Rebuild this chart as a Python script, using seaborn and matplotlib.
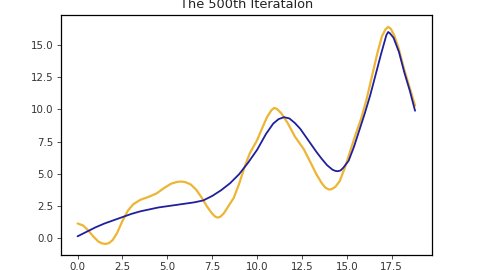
import matplotlib
matplotlib.use("Agg")
import matplotlib.pyplot as plt
import seaborn as sns
import pandas as pd

# Data
orange_x = [0.0, 0.3, 0.6, 0.9, 1.15, 1.35, 1.57, 1.75, 1.95, 2.2, 2.5, 2.8, 3.1, 3.5, 4.0, 4.4, 4.8,
            5.2, 5.5, 5.75, 6.0, 6.3, 6.6, 6.9, 7.2, 7.45, 7.65, 7.8, 7.95, 8.15, 8.4, 8.7, 9.0,
            9.3, 9.6, 10.0, 10.3, 10.55, 10.8, 10.95, 11.1, 11.35, 11.7, 12.1, 12.6, 13.0, 13.3,
            13.6, 13.8, 14.0, 14.15, 14.35, 14.6, 14.9, 15.2, 15.5, 15.8, 16.1, 16.4, 16.7, 16.95,
            17.15, 17.3, 17.45, 17.65, 17.9, 18.2, 18.5, 18.8]
orange_y = [1.1, 0.95, 0.55, 0.05, -0.3, -0.45, -0.5, -0.43, -0.2, 0.35, 1.3, 2.1, 2.6, 2.95, 3.2, 3.45, 3.85,
            4.2, 4.33, 4.38, 4.33, 4.15, 3.75, 3.15, 2.45, 1.95, 1.65, 1.56, 1.62, 1.9, 2.45, 3.1, 4.2,
            5.5, 6.6, 7.6, 8.6, 9.4, 9.95, 10.12, 10.05, 9.7, 8.95, 7.9, 6.9, 5.8, 4.95,
            4.25, 3.9, 3.75, 3.78, 3.95, 4.4, 5.5, 6.8, 8.1, 9.3, 10.8, 12.6, 14.4, 15.7,
            16.25, 16.45, 16.3, 15.75, 14.7, 13.1, 11.7, 10.3]

blue_x = [0.0, 0.5, 1.0, 1.5, 2.0, 2.5, 3.0, 3.5, 4.0, 4.5, 5.0, 5.5, 6.0, 6.5, 7.0, 7.5,
          8.0, 8.5, 9.0, 9.5, 10.0, 10.5, 10.9, 11.2, 11.5, 11.8, 12.1, 12.4, 12.8, 13.3,
          13.6, 13.9, 14.2, 14.35, 14.5, 14.65, 14.8, 15.1, 15.4, 15.7, 16.0, 16.3, 16.6, 16.9, 17.1,
          17.2, 17.3, 17.4, 17.6, 17.9, 18.2, 18.5, 18.8]
blue_y = [0.1, 0.45, 0.8, 1.1, 1.35, 1.6, 1.85, 2.05, 2.2, 2.35, 2.45, 2.55, 2.65, 2.75, 2.9, 3.25,
          3.7, 4.25, 4.95, 5.85, 6.85, 8.1, 8.9, 9.25, 9.4, 9.3, 8.95, 8.5, 7.7, 6.7,
          6.15, 5.65, 5.3, 5.21, 5.18, 5.24, 5.45, 6.0, 7.1, 8.4, 9.7, 11.1, 12.7, 14.3, 15.3,
          15.8, 16.05, 15.95, 15.6, 14.5, 12.9, 11.5, 9.9]

title = "The 500th Iteratalon"

sns.set_theme(style="ticks")
plt.rcParams['font.family'] = ['DejaVu Sans']

fig = plt.figure(figsize=(4.8, 2.7), dpi=100)
ax = fig.add_axes([60.7 / 480, 1 - 255 / 270, (432.3 - 60.7) / 480, (255 - 14.7) / 270])

df_o = pd.DataFrame({"x": orange_x, "y": orange_y})
df_b = pd.DataFrame({"x": blue_x, "y": blue_y})
sns.lineplot(data=df_o, x="x", y="y", ax=ax, color="#EDB534", linewidth=1.6, sort=False)
sns.lineplot(data=df_b, x="x", y="y", ax=ax, color="#20209C", linewidth=1.3, sort=False)

ax.set_xlim(-0.94, 19.76)
ax.set_ylim(-1.36, 17.4)
ax.set_xticks([0, 2.5, 5, 7.5, 10, 12.5, 15, 17.5])
ax.set_yticks([0, 2.5, 5, 7.5, 10, 12.5, 15])
ax.set_xticklabels(["0.0", "2.5", "5.0", "7.5", "10.0", "12.5", "15.0", "17.5"])
ax.set_yticklabels(["0.0", "2.5", "5.0", "7.5", "10.0", "12.5", "15.0"])
ax.set_xlabel("")
ax.set_ylabel("")
ax.tick_params(labelsize=7.4, colors="#333333", length=2.6, width=0.6, pad=2.5)
for s in ax.spines.values():
    s.set_visible(True)
    s.set_color("black")
    s.set_linewidth(0.9)
ax.set_title(title, fontsize=9.3, color="#222222", pad=5)

fig.savefig("out.png", dpi=100)
